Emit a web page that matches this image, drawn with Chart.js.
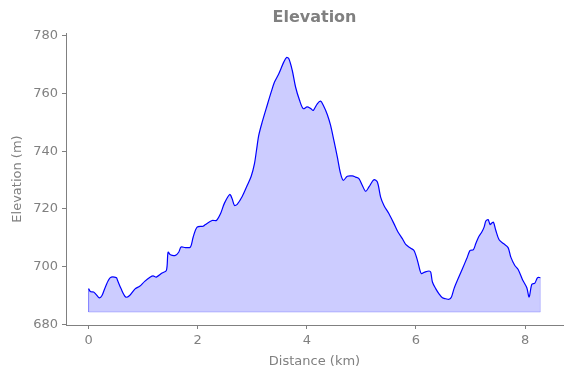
<!DOCTYPE html>
<html>
<head>
<meta charset="utf-8">
<script src="https://cdn.jsdelivr.net/npm/chart.js@4/dist/chart.umd.min.js"></script>
<style>
  html, body { margin: 0; padding: 0; background: #fff; }
  #wrap { width: 571px; height: 378px; }
</style>
</head>
<body>
<div id="wrap"><canvas id="graph" width="571" height="378"></canvas></div>
<script>
// distance along the track (km) and elevation (m)
var distance = [0.000, 0.031, 0.092, 0.136, 0.196, 0.246, 0.306, 0.398, 0.508, 0.532,
  0.594, 0.679, 0.752, 0.857, 0.936, 1.028, 1.132, 1.182, 1.242, 1.347,
  1.426, 1.457, 1.499, 1.591, 1.651, 1.695, 1.774, 1.866, 1.916, 1.989,
  2.099, 2.141, 2.264, 2.343, 2.417, 2.490, 2.587, 2.631, 2.673, 2.723,
  2.815, 2.906, 2.980, 3.040, 3.077, 3.119, 3.182, 3.273, 3.347, 3.407,
  3.486, 3.578, 3.628, 3.670, 3.732, 3.793, 3.866, 3.934, 4.004, 4.068,
  4.117, 4.191, 4.251, 4.301, 4.374, 4.435, 4.495, 4.558, 4.618, 4.668,
  4.741, 4.833, 4.894, 4.954, 5.017, 5.077, 5.138, 5.229, 5.292, 5.352,
  5.413, 5.505, 5.596, 5.670, 5.750, 5.811, 5.903, 5.963, 6.026, 6.073,
  6.099, 6.160, 6.239, 6.270, 6.301, 6.361, 6.422, 6.484, 6.545, 6.606,
  6.650, 6.697, 6.771, 6.851, 6.930, 6.991, 7.053, 7.096, 7.145, 7.206,
  7.248, 7.279, 7.321, 7.358, 7.389, 7.420, 7.462, 7.523, 7.604, 7.688,
  7.738, 7.811, 7.872, 7.952, 8.031, 8.073, 8.123, 8.178, 8.228, 8.279];

var elevation = [692.4, 691.4, 691.2, 690.4, 689.2, 690.0, 692.9, 696.2, 696.2, 695.2,
  692.4, 689.5, 690.0, 692.4, 693.2, 694.9, 696.4, 696.8, 696.4, 697.8,
  698.7, 705.0, 704.1, 703.9, 705.0, 706.8, 706.6, 706.8, 710.2, 713.7,
  714.0, 714.6, 716.0, 716.0, 718.3, 722.0, 725.0, 723.5, 721.2, 721.6,
  724.3, 728.1, 731.3, 735.7, 740.3, 745.5, 750.1, 755.9, 760.5, 763.9,
  766.8, 770.9, 772.4, 772.0, 768.0, 762.2, 757.6, 754.7, 755.3, 754.8,
  754.1, 756.4, 757.3, 755.9, 752.7, 748.9, 743.7, 738.0, 732.2, 729.9,
  731.3, 731.4, 731.0, 730.5, 728.1, 726.1, 727.6, 730.1, 729.3, 724.1,
  721.2, 718.3, 714.9, 712.0, 709.7, 707.7, 706.4, 705.6, 702.2, 698.7,
  697.6, 698.1, 698.5, 698.1, 694.7, 692.4, 690.6, 689.2, 688.9, 688.7,
  689.5, 692.4, 695.8, 699.3, 702.8, 705.6, 705.9, 708.0, 710.2, 712.0,
  713.7, 715.8, 716.3, 714.6, 715.1, 715.4, 712.6, 709.3, 708.0, 706.6,
  703.3, 700.4, 699.0, 695.5, 692.7, 689.5, 693.9, 694.3, 696.2, 696.2];

var baseline = 684.3;
var xTicks = [0, 2, 4, 6, 8];
var yTicks = [680, 700, 720, 740, 760, 780];

var grey = "#808080";
var font = "DejaVu Sans";

var profile = [];
for (var i = 0; i < distance.length; i++) {
  profile.push({ x: distance[i], y: elevation[i] });
}

// outline of the filled area (faint edge)
var last = distance.length - 1;
var outline = [
  { x: distance[0], y: elevation[0] },
  { x: distance[0], y: baseline },
  { x: distance[last], y: baseline },
  { x: distance[last], y: elevation[last] }
];

var titlePlugin = {
  id: "topTitle",
  afterDraw: function(c) {
    var ctx = c.ctx;
    var a = c.chartArea;
    ctx.save();
    ctx.font = "bold 16px '" + font + "'";
    ctx.fillStyle = grey;
    ctx.textAlign = "center";
    ctx.textBaseline = "middle";
    ctx.fillText("Elevation", (a.left + a.right) / 2, 18);
    ctx.restore();
  }
};

var ctx = document.getElementById("graph").getContext("2d");
var chart = new Chart(ctx, {
  type: "scatter",
  data: {
    datasets: [
      {
        label: "Elevation",
        data: profile,
        showLine: true,
        borderColor: "#0000ff",
        borderWidth: 1.2,
        pointRadius: 0,
        tension: 0.3,
        fill: { value: baseline },
        backgroundColor: "rgba(0, 0, 255, 0.2)",
        order: 1
      },
      {
        label: "edge",
        data: outline,
        showLine: true,
        borderColor: "rgba(0, 0, 255, 0.2)",
        borderWidth: 1,
        pointRadius: 0,
        fill: false,
        order: 2
      }
    ]
  },
  options: {
    responsive: false,
    animation: false,
    layout: { padding: { top: 33, right: 8, left: 0, bottom: 0 } },
    plugins: {
      legend: { display: false },
      tooltip: { enabled: false }
    },
    scales: {
      x: {
        type: "linear",
        min: -0.414,
        max: 8.694,
        afterFit: function(s) { s.height = 53; },
        afterBuildTicks: function(s) { s.ticks = xTicks.map(function(v) { return { value: v }; }); },
        grid: { display: true, drawOnChartArea: false, drawTicks: true, tickLength: 4, color: grey, lineWidth: 1 },
        border: { display: true, color: grey, width: 1 },
        ticks: { color: grey, font: { family: font, size: 13 }, padding: 4, maxRotation: 0 },
        title: { display: true, text: "Distance (km)", color: grey, font: { family: font, size: 13 }, padding: { top: 2, bottom: 9 } }
      },
      y: {
        type: "linear",
        min: 679.8,
        max: 780.9,
        afterFit: function(s) { s.width = 66; },
        afterBuildTicks: function(s) { s.ticks = yTicks.map(function(v) { return { value: v }; }); },
        grid: { display: true, drawOnChartArea: false, drawTicks: true, tickLength: 4, color: grey, lineWidth: 1 },
        border: { display: true, color: grey, width: 1 },
        ticks: { color: grey, font: { family: font, size: 13 }, padding: 4 },
        title: { display: true, text: "Elevation (m)", color: grey, font: { family: font, size: 13 }, padding: { top: 10, bottom: 2 } }
      }
    }
  },
  plugins: [titlePlugin]
});
</script>
</body>
</html>
